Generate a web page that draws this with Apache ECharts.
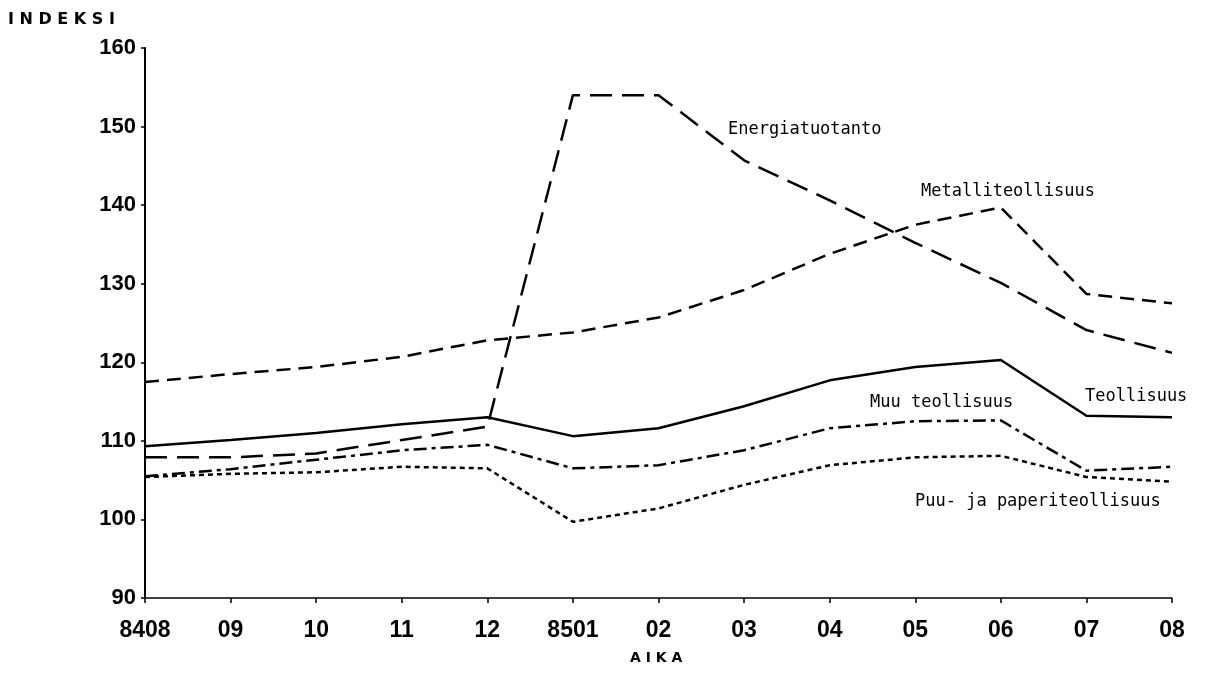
<!DOCTYPE html>
<html>
<head>
<meta charset="utf-8">
<script src="https://cdn.jsdelivr.net/npm/echarts@6/dist/echarts.min.js"></script>
<style>
  html, body { margin: 0; padding: 0; background: #fff; }
  #chart { width: 1219px; height: 678px; }
</style>
</head>
<body>
<div id="chart"></div>
<script>
// kuukaudet (x-akseli)
const months = ['8408', '09', '10', '11', '12', '8501', '02', '03', '04', '05', '06', '07', '08'];

// indeksisarjat
const teollisuus = [109.3, 110.1, 111.0, 112.1, 113.0, 110.6, 111.6, 114.4, 117.7, 119.4, 120.3, 113.2, 113.0];
const energiatuotanto = [107.9, 107.9, 108.4, 110.1, 111.8, 154.0, 154.0, 145.7, 140.6, 135.2, 130.1, 124.1, 121.2];
const metalliteollisuus = [117.5, 118.5, 119.4, 120.7, 122.8, 123.8, 125.7, 129.2, 133.8, 137.5, 139.7, 128.7, 127.5];
const muuTeollisuus = [105.5, 106.4, 107.6, 108.8, 109.5, 106.5, 106.9, 108.8, 111.6, 112.5, 112.6, 106.2, 106.7];
const puuJaPaperi = [105.4, 105.8, 106.0, 106.7, 106.5, 99.7, 101.4, 104.4, 106.9, 107.9, 108.1, 105.4, 104.8];

const chartDom = document.getElementById('chart');
const myChart = echarts.init(chartDom);

const labelFont = '"DejaVu Sans Mono", monospace';
const tickFont = '"Liberation Sans", Arial, sans-serif';

function lineSeries(name, data, type, width) {
    return {
        name: name,
        type: 'line',
        data: data,
        symbol: 'none',
        animation: false,
        lineStyle: { color: '#000', width: width, type: type, cap: 'butt' }
    };
}

// tekstit sarjojen vieressä
function seriesText(text, x, y) {
    return {
        type: 'text',
        x: x,
        y: y,
        style: { text: text, font: '17px ' + labelFont, fill: '#000', verticalAlign: 'middle' }
    };
}

const option = {
    animation: false,
    backgroundColor: '#fff',
    grid: { left: 145, right: 47, top: 48, bottom: 80 },
    xAxis: {
        type: 'category',
        data: months,
        boundaryGap: false,
        axisLine: { lineStyle: { color: '#000', width: 1.5 } },
        axisTick: { alignWithLabel: true, length: 5, lineStyle: { color: '#000', width: 1.5 } },
        axisLabel: { color: '#000', fontFamily: tickFont, fontWeight: 'bold', fontSize: 23, margin: 21 },
        splitLine: { show: false }
    },
    yAxis: {
        type: 'value',
        min: 90,
        max: 160,
        interval: 10,
        axisLine: { show: true, lineStyle: { color: '#000', width: 2 } },
        axisTick: { show: true, length: 4, lineStyle: { color: '#000', width: 1.5 } },
        axisLabel: { color: '#000', fontFamily: tickFont, fontWeight: 'bold', fontSize: 22, margin: 9 },
        splitLine: { show: false }
    },
    graphic: [
        { type: 'text', x: 8, y: 20, style: { text: 'I N D E K S I', font: 'bold 16px "DejaVu Sans", sans-serif', fill: '#000', verticalAlign: 'middle' } },
        { type: 'text', x: 630, y: 658, style: { text: 'A I K A', font: 'bold 14px "DejaVu Sans", sans-serif', fill: '#000', verticalAlign: 'middle' } },
        seriesText('Energiatuotanto', 728, 130),
        seriesText('Metalliteollisuus', 921, 192),
        seriesText('Teollisuus', 1085, 397),
        seriesText('Muu teollisuus', 870, 403),
        seriesText('Puu- ja paperiteollisuus', 915, 502)
    ],
    series: [
        lineSeries('Teollisuus', teollisuus, 'solid', 2.5),
        lineSeries('Energiatuotanto', energiatuotanto, [22, 10], 2.5),
        lineSeries('Metalliteollisuus', metalliteollisuus, [14, 8], 2.5),
        lineSeries('Muu teollisuus', muuTeollisuus, [13, 5, 4, 5], 2.5),
        lineSeries('Puu- ja paperiteollisuus', puuJaPaperi, [5, 4], 2.5)
    ]
};

myChart.setOption(option);
</script>
</body>
</html>
